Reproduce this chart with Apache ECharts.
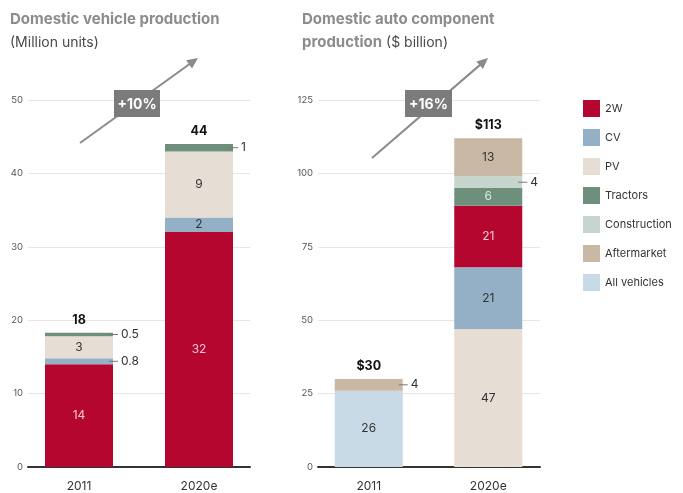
<!DOCTYPE html>
<html><head><meta charset="utf-8">
<script src="https://cdn.jsdelivr.net/npm/echarts@6/dist/echarts.min.js"></script>
<style>html,body{margin:0;padding:0;background:#fff}#c{width:683px;height:493px}</style>
</head><body><div id="c"></div>
<script>
// ---------- DATA ----------
const categories = ['2011', '2020e'];

// Left: Domestic vehicle production (Million units)
const vehicle2W = [14, 32];
const vehicleCV = [0.8, 2];
const vehiclePV = [3, 9];
const vehicleTractors = [0.5, 1];
const vehicleTotalLabels = ['18', '44'];
const vehicleTicks = [0, 10, 20, 30, 40, 50];

// Right: Domestic auto component production ($ billion)
const compAllVehicles = [26, '-'];
const compPV = ['-', 47];
const compCV = ['-', 21];
const comp2W = ['-', 21];
const compTractors = ['-', 6];
const compConstruction = ['-', 4];
const compAftermarket = [4, 13];
const compTotalLabels = ['$30', '$113'];
const compTicks = [0, 25, 50, 75, 100, 125];

const legendNames = ['2W', 'CV', 'PV', 'Tractors', 'Construction', 'Aftermarket', 'All vehicles'];
const growthLabels = ['+10%', '+16%'];

// ---------- STYLE ----------
const FONT = 'Inter, "Open Sans", Roboto, sans-serif';
const COLORS = {
  '2W': '#b4062f', 'CV': '#94b0c6', 'PV': '#e6ded5', 'Tractors': '#6e8f7b',
  'Construction': '#c6d5cd', 'Aftermarket': '#c9b9a4', 'All vehicles': '#c8dae6'
};
const INSIDE_COLOR = { '2W': '#f7c9d4', 'Tractors': '#d9eadf' };
const TOP = 100, H = 367;

const chart = echarts.init(document.getElementById('c'), null, { renderer: 'canvas' });

function outsideLabel() {
  return {
    show: true, position: 'right', distance: -4,
    formatter: '{l|}{v|{c}}',
    rich: {
      l: { width: 9, height: 1, backgroundColor: '#777', verticalAlign: 'middle' },
      v: { fontSize: 12, color: '#333', fontFamily: FONT, padding: [0, 0, 0, 3], verticalAlign: 'middle' }
    }
  };
}
function insideLabel(name) {
  return {
    show: true, position: 'inside', formatter: '{c}',
    color: INSIDE_COLOR[name] || '#333', fontSize: 12, fontFamily: FONT
  };
}
function bar(name, values, axisIdx, stack, pxPerUnit) {
  return {
    type: 'bar', name, stack, xAxisIndex: axisIdx, yAxisIndex: axisIdx,
    barWidth: 68, silent: true,
    itemStyle: { color: COLORS[name] },
    data: values.map(v => {
      if (v === '-') return '-';
      return { value: v, label: v * pxPerUnit < 13 ? outsideLabel() : insideLabel(name) };
    })
  };
}
function totals(arrays, labels, axisIdx, name) {
  const sums = categories.map((_, i) => arrays.reduce((s, a) => s + (a[i] === '-' ? 0 : a[i]), 0));
  return {
    type: 'line', name, xAxisIndex: axisIdx, yAxisIndex: axisIdx, data: sums,
    symbol: 'circle', symbolSize: 2, silent: true, z: 5,
    itemStyle: { color: 'rgba(0,0,0,0)' }, lineStyle: { opacity: 0 },
    label: {
      show: true, position: 'top', distance: 5,
      formatter: p => labels[p.dataIndex],
      fontWeight: 'bold', fontSize: 12.5, color: '#111', fontFamily: FONT
    }
  };
}
function arrow(x1, y1, x2, y2, box, text) {
  const dx = x2 - x1, dy = y2 - y1, len = Math.hypot(dx, dy);
  const ux = dx / len, uy = dy / len, px = -uy, py = ux;
  const bx = x2 - 11 * ux, by = y2 - 11 * uy;
  return [
    { type: 'line', z: 10, shape: { x1, y1, x2: bx + 2 * ux, y2: by + 2 * uy }, style: { stroke: '#8a8a8a', lineWidth: 2 } },
    { type: 'polygon', z: 10, shape: { points: [[x2, y2], [bx + 5 * px, by + 5 * py], [bx - 5 * px, by - 5 * py]] }, style: { fill: '#8a8a8a' } },
    { type: 'rect', z: 11, shape: box, style: { fill: '#7b7b7b' } },
    { type: 'text', z: 12, style: { text, x: box.x + box.width / 2, y: box.y + box.height / 2 + 1, align: 'center', verticalAlign: 'middle', fill: '#fff', font: 'bold 14px ' + FONT } }
  ];
}

const vMax = vehicleTicks[vehicleTicks.length - 1], vInt = vehicleTicks[1] - vehicleTicks[0];
const cMax = compTicks[compTicks.length - 1], cInt = compTicks[1] - compTicks[0];
const vPx = H / vMax, cPx = H / cMax;

const visibleY = (max, interval, margin) => ({
  type: 'value', min: 0, max, interval,
  axisLine: { show: false }, axisTick: { show: false },
  axisLabel: { fontSize: 9.5, color: '#555', margin, fontFamily: FONT },
  splitLine: { lineStyle: { color: '#e6e6e6', width: 1 } }
});

const titleRich = {
  b: { fontSize: 15, fontWeight: 'bold', color: '#8c8c8c', fontFamily: FONT, lineHeight: 23 },
  r: { fontSize: 14, fontWeight: 'normal', color: '#4a4a4a', fontFamily: FONT, lineHeight: 23 }
};

chart.setOption({
  animation: false,
  title: [
    { left: 10, top: 8, padding: 0, text: '{b|Domestic vehicle production}\n{r|(Million units)}', textStyle: { fontWeight: 'normal', rich: titleRich } },
    { left: 302, top: 8, padding: 0, text: '{b|Domestic auto component}\n{b|production}{r| ($ billion)}', textStyle: { fontWeight: 'normal', rich: titleRich } }
  ],
  legend: {
    data: legendNames, orient: 'vertical', left: 583, top: 100, padding: 0,
    itemWidth: 17, itemHeight: 17, itemGap: 12, icon: 'rect', selectedMode: false,
    textStyle: { fontSize: 11, color: '#333', fontFamily: FONT }
  },
  grid: [
    { left: 28, top: TOP, width: 222, height: H },
    { left: 19, top: TOP, width: 240, height: H },
    { left: 318, top: TOP, width: 222, height: H },
    { left: 309, top: TOP, width: 239, height: H }
  ],
  xAxis: [0, 1, 2, 3].map(i => ({
    gridIndex: i, type: 'category', data: categories,
    axisLine: i % 2 === 0 ? { show: true, lineStyle: { color: '#333', width: 2 } } : { show: false },
    axisTick: { show: false },
    axisLabel: i % 2 === 0 ? { show: false } : { fontSize: 12, color: '#333', margin: 13, fontFamily: FONT }
  })),
  yAxis: [
    Object.assign({ gridIndex: 0 }, visibleY(vMax, vInt, 5)),
    { gridIndex: 1, type: 'value', min: 0, max: vMax, show: false },
    Object.assign({ gridIndex: 2 }, visibleY(cMax, cInt, 5)),
    { gridIndex: 3, type: 'value', min: 0, max: cMax, show: false }
  ],
  series: [
    bar('2W', vehicle2W, 1, 'v', vPx),
    bar('CV', vehicleCV, 1, 'v', vPx),
    bar('PV', vehiclePV, 1, 'v', vPx),
    bar('Tractors', vehicleTractors, 1, 'v', vPx),
    totals([vehicle2W, vehicleCV, vehiclePV, vehicleTractors], vehicleTotalLabels, 1, 'vTotal'),
    bar('All vehicles', compAllVehicles, 3, 'c', cPx),
    bar('PV', compPV, 3, 'c', cPx),
    bar('CV', compCV, 3, 'c', cPx),
    bar('2W', comp2W, 3, 'c', cPx),
    bar('Tractors', compTractors, 3, 'c', cPx),
    bar('Construction', compConstruction, 3, 'c', cPx),
    bar('Aftermarket', compAftermarket, 3, 'c', cPx),
    totals([compAllVehicles, compPV, compCV, comp2W, compTractors, compConstruction, compAftermarket], compTotalLabels, 3, 'cTotal')
  ],
  graphic: [].concat(
    arrow(80, 143, 198, 58, { x: 114, y: 90, width: 46, height: 27 }, growthLabels[0]),
    arrow(372, 158, 488, 58, { x: 405, y: 90, width: 47, height: 27 }, growthLabels[1])
  )
});
</script></body></html>
